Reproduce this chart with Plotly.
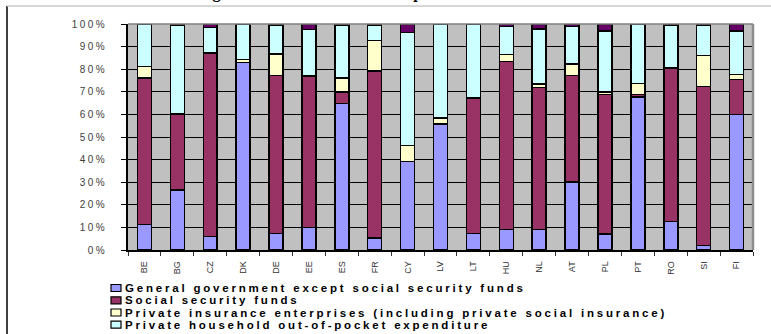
import plotly.graph_objects as go

countries = ["BE", "BG", "CZ", "DK", "DE", "EE", "ES", "FR", "CY", "LV",
             "LT", "HU", "NL", "AT", "PL", "PT", "RO", "SI", "FI"]
gov = [11.2, 26.5, 5.9, 83.0, 7.4, 10.0, 64.9, 5.3, 39.2, 55.8,
       7.4, 9.1, 9.1, 30.1, 7.1, 67.8, 12.7, 1.9, 59.9]
ssf = [64.9, 33.7, 81.3, 0.0, 69.9, 66.8, 5.0, 73.8, 0.0, 0.0,
       59.9, 74.4, 62.9, 47.2, 61.6, 1.0, 67.8, 70.5, 15.6]
pins = [5.2, 0.0, 0.2, 1.2, 9.4, 0.3, 6.2, 13.5, 7.0, 2.6,
        0.0, 2.9, 1.5, 5.0, 1.2, 4.9, 0.0, 13.7, 2.1]
hh = [18.7, 39.2, 11.1, 15.8, 12.7, 20.4, 23.3, 6.8, 50.1, 41.6,
      32.7, 12.6, 24.4, 16.7, 27.1, 26.0, 18.9, 13.3, 19.4]
other = [0.0, 0.6, 1.5, 0.0, 0.6, 2.5, 0.6, 0.6, 3.7, 0.0,
         0.0, 1.0, 2.1, 1.0, 3.0, 0.3, 0.6, 0.6, 3.0]

series_names = [
    "General government except social security funds",
    "Social security funds",
    "Private insurance enterprises (including private social insurance)",
    "Private household out-of-pocket expenditure",
]
y_ticks = [0, 10, 20, 30, 40, 50, 60, 70, 80, 90, 100]
y_ticktext = [f"{v}%" for v in y_ticks]

colors = ["#9999FF", "#993366", "#FFFFCC", "#CCFFFF", "#660066"]
series = [gov, ssf, pins, hh, other]
names = series_names + ["Other"]

fig = go.Figure()
for vals, nm, col in zip(series, names, colors):
    fig.add_trace(go.Bar(
        x=countries, y=vals, name=nm, showlegend=False,
        marker=dict(color=col, line=dict(color="black", width=1.5)),
    ))

# plot area in pixels: x 128..753, y 24..250
L, R, T, B = 128, 753, 24, 250
W, H = R - L, B - T
def px(x):
    return (x - L) / W
def py(y):
    return (B - y) / H

shapes = []
# outer frame lines
shapes.append(dict(type="line", xref="paper", yref="paper", x0=px(7), x1=px(7),
                   y0=py(6), y1=py(340), line=dict(color="black", width=1.5)))
shapes.append(dict(type="line", xref="paper", yref="paper", x0=px(7), x1=px(775),
                   y0=py(6), y1=py(6), line=dict(color="#C8C8C8", width=1.5)))
# plot border top / right
shapes.append(dict(type="line", xref="paper", yref="paper", x0=0, x1=1,
                   y0=1, y1=1, line=dict(color="#808080", width=1.5)))
shapes.append(dict(type="line", xref="paper", yref="paper", x0=1, x1=1,
                   y0=0, y1=1, line=dict(color="#8C8C8C", width=2.5)))

annotations = []
# manual legend
leg_y = [288, 300.3, 312.5, 324.7]
for nm, col, yy in zip(series_names, colors[:4], leg_y):
    shapes.append(dict(type="rect", xref="paper", yref="paper",
                       x0=px(111), x1=px(121), y0=py(yy + 3.5), y1=py(yy - 3.5),
                       fillcolor=col, line=dict(color="black", width=1.2)))
    annotations.append(dict(
        xref="paper", yref="paper", x=px(123), y=py(yy), xanchor="left", yanchor="middle",
        text=f'<b><span style="letter-spacing:2.8px">{nm}</span></b>', showarrow=False,
        font=dict(family="Liberation Sans, Arial", size=11.5, color="black"),
    ))

# cut-off title at the very top
annotations.append(dict(
    xref="paper", yref="paper", x=px(150), y=py(4.5), xanchor="left", yanchor="bottom",
    text="<b>Financing sources of current health expenditure</b>", showarrow=False,
    font=dict(family="Liberation Serif, Times New Roman", size=16, color="black"),
))

fig.update_layout(
    width=771, height=334,
    margin=dict(l=L, r=771 - R, t=T, b=334 - B, pad=0),
    barmode="stack", bargap=0.575,
    plot_bgcolor="#C0C0C0", paper_bgcolor="white",
    shapes=shapes, annotations=annotations,
    xaxis=dict(
        showline=True, linecolor="black", linewidth=1.5,
        ticks="outside", ticklen=4, tickcolor="#333333", tickson="boundaries",
        tickangle=-90, ticklabelstandoff=6,
        tickfont=dict(family="Liberation Sans, Arial", size=9, color="#333333"),
        showgrid=False,
    ),
    yaxis=dict(
        range=[0, 100], tickvals=y_ticks,
        ticktext=[f'<span style="letter-spacing:2.5px">{t}</span>' for t in y_ticktext],
        showline=True, linecolor="black", linewidth=1.5,
        ticks="outside", ticklen=5, tickcolor="black", ticklabelstandoff=12,
        tickfont=dict(family="Liberation Sans, Arial", size=10, color="#404040"),
        showgrid=True, gridcolor="black", gridwidth=1, zeroline=False,
    ),
)

fig.write_html("out.html")
